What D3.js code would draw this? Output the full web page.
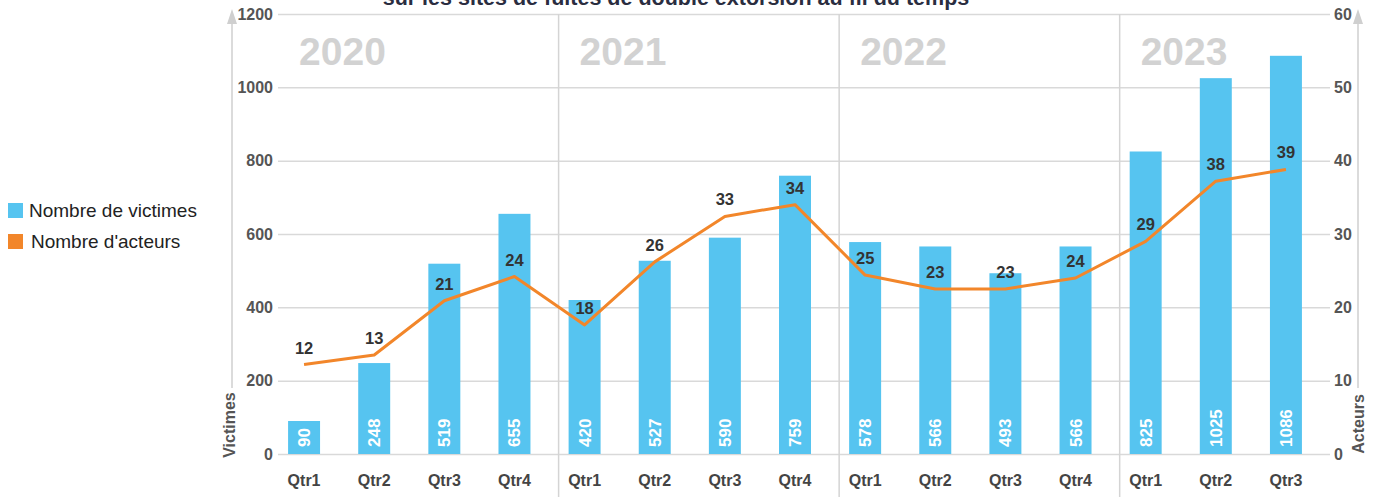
<html>
<head>
<meta charset="utf-8">
<title>Victimes et acteurs</title>
<script src="https://d3js.org/d3.v7.min.js"></script>
<style>
  body { margin: 0; background: #fff; }
  svg text { font-family: "Liberation Sans", Arial, sans-serif; }
  .tick line { stroke: #d9d9d9; stroke-width: 1.5; }
  .tick text { fill: #555; font-weight: bold; font-size: 16px; }
</style>
</head>
<body>
<svg id="chart"></svg>
<script>
// data
var years = ["2020", "2021", "2022", "2023"];
var quarters = ["Qtr1", "Qtr2", "Qtr3", "Qtr4", "Qtr1", "Qtr2", "Qtr3", "Qtr4",
                "Qtr1", "Qtr2", "Qtr3", "Qtr4", "Qtr1", "Qtr2", "Qtr3"];
var yearOf = ["2020", "2020", "2020", "2020", "2021", "2021", "2021", "2021",
              "2022", "2022", "2022", "2022", "2023", "2023", "2023"];
var victims = [90, 248, 519, 655, 420, 527, 590, 759, 578, 566, 493, 566, 825, 1025, 1086];
var actors = [12.2, 13.5, 20.9, 24.2, 17.6, 26.2, 32.4, 34.0, 24.4, 22.5, 22.5, 24.0, 29.0, 37.2, 38.8];
var actorLabels = [12, 13, 21, 24, 18, 26, 33, 34, 25, 23, 23, 24, 29, 38, 39];
var leftTicks = [0, 200, 400, 600, 800, 1000, 1200];
var rightTicks = [0, 10, 20, 30, 40, 50, 60];

var W = 1380, H = 497;
var plotTop = 14, plotBottom = 454, gridL = 278, gridR = 1330;
var blue = "#56c4f0", orange = "#f2862a";

var svg = d3.select("#chart").attr("width", W).attr("height", H);

var idx = d3.range(victims.length);
var x = d3.scaleBand().domain(idx).range([269, 1321]).paddingInner(0.544).paddingOuter(0.272);
var y = d3.scaleLinear().domain([0, 1200]).range([plotBottom, plotTop]);
var y2 = d3.scaleLinear().domain([0, 60]).range([plotBottom, plotTop]);

// title (cut off at the top)
svg.append("text")
    .attr("x", 676).attr("y", 5)
    .attr("text-anchor", "middle")
    .style("font-size", "21.5px").style("font-weight", "bold").style("fill", "#2a2d40")
    .text("sur les sites de fuites de double extorsion au fil du temps");

// left axis + grid
var gl = svg.append("g")
    .attr("transform", "translate(" + gridL + ",0)")
    .call(d3.axisLeft(y).tickValues(leftTicks).tickFormat(d3.format("d"))
        .tickSize(-(gridR - gridL)).tickSizeOuter(0).tickPadding(5));
gl.select(".domain").remove();

// right axis labels
var gr = svg.append("g")
    .attr("transform", "translate(" + gridR + ",0)")
    .call(d3.axisRight(y2).tickValues(rightTicks).tickSize(0).tickPadding(4));
gr.select(".domain").remove();

// year separators
var groupStarts = years.map(function (yr) { return yearOf.indexOf(yr); });
groupStarts.slice(1).forEach(function (i) {
    svg.append("line")
        .attr("x1", x(i) - 10).attr("x2", x(i) - 10)
        .attr("y1", plotTop).attr("y2", H)
        .style("stroke", "#d4d4d4").style("stroke-width", 1.5);
});

// year labels
svg.selectAll(".year")
    .data(years)
    .enter().append("text")
    .attr("x", function (d, i) { return x(groupStarts[i]) + 11; })
    .attr("y", 65)
    .style("font-size", "39px").style("font-weight", "bold").style("fill", "#d2d2d2")
    .text(function (d) { return d; });

// arrow axis lines
function arrowAxis(xp) {
    svg.append("line")
        .attr("x1", xp).attr("x2", xp).attr("y1", 18).attr("y2", 388)
        .style("stroke", "#cfcfcf").style("stroke-width", 1.5);
    svg.append("path")
        .attr("d", "M" + (xp - 5) + ",24 L" + xp + ",9 L" + (xp + 5) + ",24 Z")
        .style("fill", "#cfcfcf");
}
arrowAxis(232);
arrowAxis(1358);

// axis titles
svg.append("text")
    .attr("transform", "translate(235,425) rotate(-90)")
    .attr("text-anchor", "middle")
    .style("font-size", "16px").style("font-weight", "bold").style("fill", "#555")
    .text("Victimes");
svg.append("text")
    .attr("transform", "translate(1364,424) rotate(-90)")
    .attr("text-anchor", "middle")
    .style("font-size", "16px").style("font-weight", "bold").style("fill", "#555")
    .text("Acteurs");

// bars
svg.selectAll(".bar")
    .data(victims)
    .enter().append("rect")
    .attr("x", function (d, i) { return x(i); })
    .attr("y", function (d) { return y(d); })
    .attr("width", x.bandwidth())
    .attr("height", function (d) { return plotBottom - y(d); })
    .style("fill", blue);

// bar value labels
svg.selectAll(".blabel")
    .data(victims)
    .enter().append("text")
    .attr("transform", function (d, i) {
        return "translate(" + (x(i) + x.bandwidth() / 2 + 6) + "," + (plotBottom - 7) + ") rotate(-90)";
    })
    .style("font-size", "17px").style("font-weight", "bold").style("fill", "#fff")
    .text(function (d) { return d; });

// x labels
var gx = svg.append("g")
    .attr("transform", "translate(0," + plotBottom + ")")
    .call(d3.axisBottom(x).tickSize(0).tickPadding(21).tickFormat(function (i) { return quarters[i]; }));
gx.select(".domain").remove();
gx.selectAll("text").style("font-size", "16px").style("fill", "#444");

// actors line
var line = d3.line()
    .x(function (d, i) { return x(i) + x.bandwidth() / 2; })
    .y(function (d) { return y2(d); });
svg.append("path")
    .datum(actors)
    .attr("d", line)
    .style("fill", "none").style("stroke", orange).style("stroke-width", 3)
    .style("stroke-linejoin", "round");

svg.selectAll(".alabel")
    .data(actors)
    .enter().append("text")
    .attr("x", function (d, i) { return x(i) + x.bandwidth() / 2; })
    .attr("y", function (d) { return y2(d) - 11; })
    .attr("text-anchor", "middle")
    .style("font-size", "16.5px").style("font-weight", "bold").style("fill", "#333")
    .text(function (d, i) { return actorLabels[i]; });

// legend
var legend = [["Nombre de victimes", blue], ["Nombre d'acteurs", orange]];
legend.forEach(function (l, i) {
    svg.append("rect")
        .attr("x", 8).attr("y", 203 + i * 31).attr("width", 15).attr("height", 15)
        .style("fill", l[1]);
    svg.append("text")
        .attr("x", 29 + i * 2).attr("y", 217 + i * 31)
        .style("font-size", "19px").style("fill", "#222")
        .text(l[0]);
});
</script>
</body>
</html>
